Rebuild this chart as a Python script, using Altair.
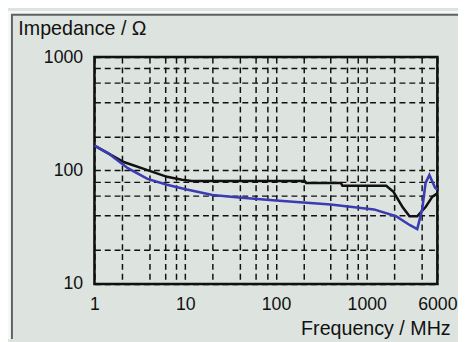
import altair as alt
import pandas as pd

# ---- data ----
freq_black = [1, 1.42, 2.1, 3.84, 6.3, 9.2, 11.8, 30, 100, 207, 215, 520, 540, 1640, 1970, 2490, 2960, 3600, 4470, 5290, 6000]
imp_black = [166, 142, 119, 101, 88, 83, 81, 81, 81, 81, 77.6, 77.6, 73.5, 73.5, 65, 47.4, 39.6, 39.6, 48, 59, 63]

freq_blue = [1, 1.42, 2.33, 3.84, 6.3, 10.4, 20, 39, 100, 400, 1200, 2100, 3000, 3600, 4080, 4450, 4900, 5660, 6000]
imp_blue = [166, 142, 105, 84.5, 75, 68, 61, 58, 54.5, 50.3, 45.5, 39.6, 33, 30.5, 45.5, 78, 91.5, 70.6, 68]

x_grid = [1, 2, 4, 6, 8, 10, 20, 40, 60, 80, 100, 200, 400, 600, 800, 1000, 2000, 4000, 6000]
y_grid = [10, 20, 40, 60, 80, 100, 200, 400, 600, 800, 1000]
x_labels = [1, 10, 100, 1000, 6000]
y_labels = [10, 100, 1000]

x_title = "Frequency / MHz"
y_title = "Impedance / Ω"

df = pd.DataFrame({
    "freq": freq_black + freq_blue,
    "imp": imp_black + imp_blue,
    "series": ["A"] * len(freq_black) + ["B"] * len(freq_blue),
})

W, H = 349, 231
FONT = "Liberation Sans"
INK = "#111111"
BG = "#dde3df"

x_lab_expr = "indexof(%s, datum.value) >= 0 ? format(datum.value, 'd') : ''" % str(x_labels)
y_lab_expr = "indexof(%s, datum.value) >= 0 ? format(datum.value, 'd') : ''" % str(y_labels)

x_enc = alt.X(
    "freq:Q",
    scale=alt.Scale(type="log", domain=[1, 6000], nice=False),
    axis=alt.Axis(
        values=x_grid, labelExpr=x_lab_expr, title=x_title,
        grid=True, gridDash=[6, 4], gridColor=INK, gridWidth=1.5, gridOpacity=1,
        ticks=False, domain=False, labelFlush=False, labelOverlap=False,
        labelFont=FONT, labelFontSize=18, labelColor=INK, labelPadding=12,
        titleFont=FONT, titleFontSize=20, titleFontWeight="normal", titleColor=INK,
        titleX=362, titleY=51, titleAlign="right", titleBaseline="alphabetic",
    ),
)
y_enc = alt.Y(
    "imp:Q",
    scale=alt.Scale(type="log", domain=[10, 1000], nice=False),
    axis=alt.Axis(
        values=y_grid, labelExpr=y_lab_expr, title=y_title,
        grid=True, gridDash=[6, 4], gridColor=INK, gridWidth=1.5, gridOpacity=1,
        ticks=False, domain=False, labelFlush=False, labelOverlap=False,
        labelFont=FONT, labelFontSize=18, labelColor=INK, labelPadding=12,
        titleFont=FONT, titleFontSize=20, titleFontWeight="normal", titleColor=INK,
        titleAngle=0, titleX=-78, titleY=-23, titleAlign="left", titleBaseline="alphabetic",
    ),
)

lines = alt.Chart(df).mark_line(strokeWidth=2.6, interpolate="linear").encode(
    x=x_enc,
    y=y_enc,
    color=alt.Color("series:N", scale=alt.Scale(domain=["A", "B"], range=[INK, "#3b3bb2"]), legend=None),
)

one = pd.DataFrame({"k": [0]})
white_left = alt.Chart(one).mark_rect(color="#f6f8f7").encode(
    x=alt.value(-88), x2=alt.value(-85), y=alt.value(-47), y2=alt.value(287))
white_top = alt.Chart(one).mark_rect(color="#f6f8f7").encode(
    x=alt.value(-88), x2=alt.value(430), y=alt.value(-47), y2=alt.value(-44))
frame_left = alt.Chart(one).mark_rule(color="#5c625f", strokeWidth=2).encode(
    x=alt.value(-84), y=alt.value(-43), y2=alt.value(287))
frame_top = alt.Chart(one).mark_rule(color="#5c625f", strokeWidth=2).encode(
    x=alt.value(-85), x2=alt.value(430), y=alt.value(-43))

chart = alt.layer(white_left, white_top, frame_left, frame_top, lines).properties(
    width=W, height=H,
    autosize="none",
    padding={"left": 88, "top": 47, "right": 21, "bottom": 56},
    background=BG,
).configure_view(stroke=INK, strokeWidth=2.6)

chart.save("out.html", embed_options={"renderer": "svg", "actions": False})
